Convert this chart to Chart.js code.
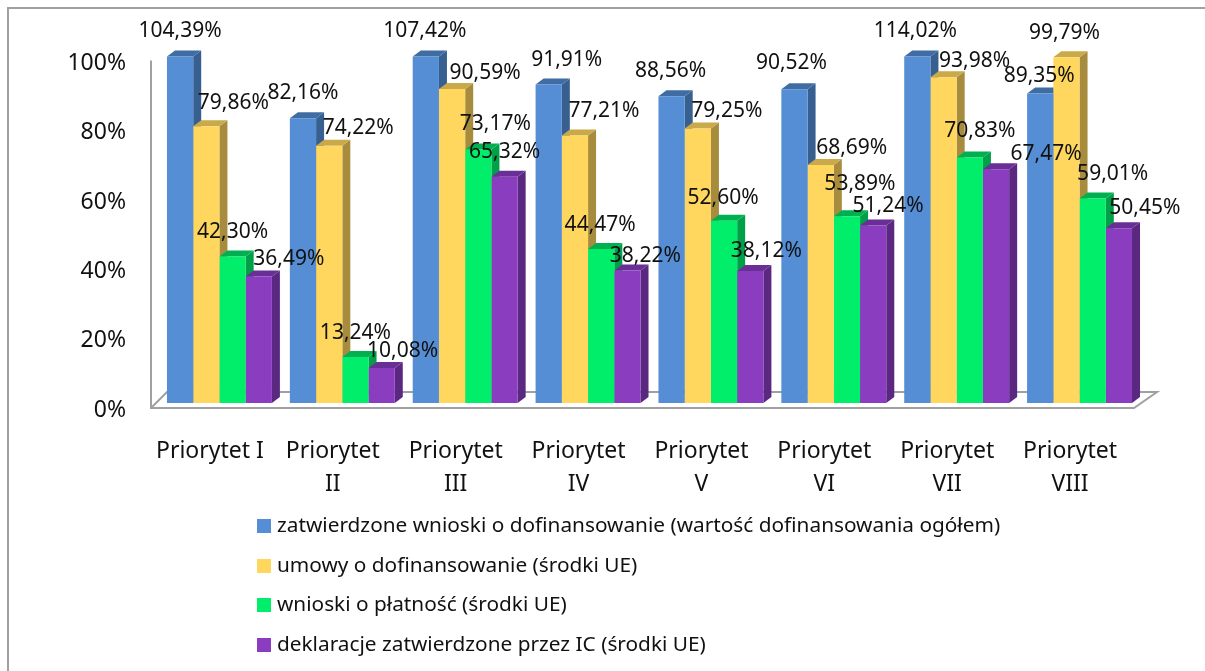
<!DOCTYPE html>
<html lang="pl">
<head>
<meta charset="utf-8">
<title>Priorytety</title>
<script src="https://cdn.jsdelivr.net/npm/chart.js@4"></script>
<style>
  html, body { margin: 0; background: #fff; overflow: hidden; }
  #wrap { position: relative; width: 1205px; height: 671px; }
  #chart { position: absolute; left: 0; top: 0; }
  #frame { position: absolute; left: 7px; top: 7px; width: 1198px; height: 664px;
           border-left: 2px solid #a0a0a0; border-top: 2px solid #a0a0a0; box-sizing: border-box; }
  #legend { position: absolute; left: 257px; top: 505px; font: 20.8px "Noto Sans", sans-serif; color: #111; }
  #legend div { height: 39.6px; line-height: 39.6px; white-space: nowrap; }
  #legend i { display: inline-block; width: 14px; height: 14px; margin-right: 6px; vertical-align: -1px; }
</style>
</head>
<body>
<div id="wrap">
  <div id="frame"></div>
  <canvas id="chart" width="1205" height="671"></canvas>
  <div id="legend"></div>
</div>
<script>
const categories = ["Priorytet I", ["Priorytet", "II"], ["Priorytet", "III"], ["Priorytet", "IV"],
  ["Priorytet", "V"], ["Priorytet", "VI"], ["Priorytet", "VII"], ["Priorytet", "VIII"]];
const seriesNames = [
  "zatwierdzone wnioski o dofinansowanie (wartość dofinansowania ogółem)",
  "umowy o dofinansowanie (środki UE)",
  "wnioski o płatność (środki UE)",
  "deklaracje zatwierdzone przez IC (środki UE)"
];
const approved = [104.39, 82.16, 107.42, 91.91, 88.56, 90.52, 114.02, 89.35];
const contracts = [79.86, 74.22, 90.59, 77.21, 79.25, 68.69, 93.98, 99.79];
const payments = [42.30, 13.24, 73.17, 44.47, 52.60, 53.89, 70.83, 59.01];
const declarations = [36.49, 10.08, 65.32, 38.22, 38.12, 51.24, 67.47, 50.45];
const yTicks = [0, 20, 40, 60, 80, 100];

const frontColors = ["#558ed5", "#ffd75e", "#00ee6a", "#8b3dc0"];
const topColors = ["#3f6ca3", "#c9a94a", "#00b050", "#6a2f96"];
const sideColors = ["#375f90", "#a88c3e", "#00a048", "#5a2880"];

// hand placed data labels, offset from the top centre of each bar
const labelDx = [
  [0, 0, -1, 18, -1, -3, -2, -1],
  [27, 29, 33, 29, 29, 31, 31, -2],
  [0, 0, 17, -1, -1, 13, 10, 20],
  [30, 21, 0, 18, 16, 15, 50, 26]
];
const labelDy = [
  [-25, -25, -25, -25, -25, -26, -25, -17],
  [-23, -18, -16, -24, -17, -17, -16, -24],
  [-24, -24, -25, -24, -23, -32, -27, -25],
  [-18, -17, -25, -15, -20, -19, -15, -20]
];

const DEPTH_X = 8, DEPTH_Y = 6;
const FONT = '"Noto Sans", sans-serif';

const poly = (ctx, color, pts) => {
  ctx.fillStyle = color;
  ctx.beginPath();
  pts.forEach((p, i) => i ? ctx.lineTo(p[0], p[1]) : ctx.moveTo(p[0], p[1]));
  ctx.closePath();
  ctx.fill();
};

// floor, wall line and the 3D faces of the bars
const fake3d = {
  id: "fake3d",
  afterLayout(chart) {
    chart.scales.y.getLabelItems().forEach(t => { t.options.translation[1] += 7; });
    chart.scales.x.getLabelItems().forEach(t => { t.options.translation[0] -= 9.5; });
  },
  beforeDatasetsDraw(chart) {
    const { ctx, chartArea, scales } = chart;
    const base = scales.y.getPixelForValue(0);
    const top = scales.y.getPixelForValue(100);
    ctx.save();
    ctx.strokeStyle = "#a0a0a0";
    ctx.lineWidth = 2;
    ctx.beginPath();
    ctx.moveTo(chartArea.left - 7, top + 4);
    ctx.lineTo(chartArea.left - 7, base + 5);
    ctx.lineTo(chartArea.left + 976, base + 5);
    ctx.lineTo(chartArea.right + 16, base - 11);
    ctx.lineTo(chartArea.left + 9, base - 11);
    ctx.lineTo(chartArea.left - 7, base + 5);
    ctx.stroke();
    ctx.restore();

    // left to right so each bar's faces sit over the previous bar's side
    chart.data.datasets.forEach((ds, i) => {
      chart.getDatasetMeta(i).data.forEach(bar => {
        const y = Math.max(bar.y, chartArea.top);
        const l = bar.x - bar.width / 2, r = bar.x + bar.width / 2;
        poly(ctx, sideColors[i], [[r, y], [r + DEPTH_X, y - DEPTH_Y], [r + DEPTH_X, bar.base - DEPTH_Y], [r, bar.base]]);
        poly(ctx, topColors[i], [[l, y], [l + DEPTH_X, y - DEPTH_Y], [r + DEPTH_X, y - DEPTH_Y], [r, y]]);
      });
    });
  },
  afterDatasetsDraw(chart) {
    const { ctx, chartArea } = chart;
    ctx.save();
    ctx.font = "21px " + FONT;
    ctx.fillStyle = "#111";
    ctx.textAlign = "center";
    ctx.textBaseline = "middle";
    chart.data.datasets.forEach((ds, i) => {
      chart.getDatasetMeta(i).data.forEach((bar, j) => {
        const txt = ds.data[j].toFixed(2).replace(".", ",") + "%";
        ctx.fillText(txt, bar.x + labelDx[i][j], Math.max(bar.y, chartArea.top) + labelDy[i][j]);
      });
    });
    ctx.restore();
  }
};

new Chart(document.getElementById("chart"), {
  type: "bar",
  data: {
    labels: categories,
    datasets: [approved, contracts, payments, declarations].map((values, i) => ({
      label: seriesNames[i],
      data: values,
      backgroundColor: frontColors[i],
      barPercentage: 1,
      categoryPercentage: 0.854
    }))
  },
  options: {
    responsive: false,
    animation: false,
    layout: { padding: { top: 56.5, right: 64, left: 0, bottom: 0 } },
    plugins: { legend: { display: false }, tooltip: { enabled: false } },
    scales: {
      x: {
        grid: { display: false },
        border: { display: false },
        afterFit: s => { s.height = 268; },
        ticks: {
          padding: 24,
          maxRotation: 0,
          autoSkip: false,
          color: "#111",
          font: { family: FONT, size: 23, lineHeight: 1.43 }
        }
      },
      y: {
        min: 0,
        max: 100,
        grid: { display: false, drawTicks: false },
        border: { display: false },
        afterFit: s => { s.width = 158; },
        afterBuildTicks: s => { s.ticks = yTicks.map(v => ({ value: v })); },
        ticks: {
          padding: 32,
          color: "#111",
          font: { family: FONT, size: 23 },
          callback: v => v + "%"
        }
      }
    }
  },
  plugins: [fake3d]
});

const legendEl = document.getElementById("legend");
seriesNames.forEach((name, i) => {
  const row = document.createElement("div");
  row.innerHTML = `<i style="background:${frontColors[i]}"></i>${name}`;
  legendEl.appendChild(row);
});
</script>
</body>
</html>
